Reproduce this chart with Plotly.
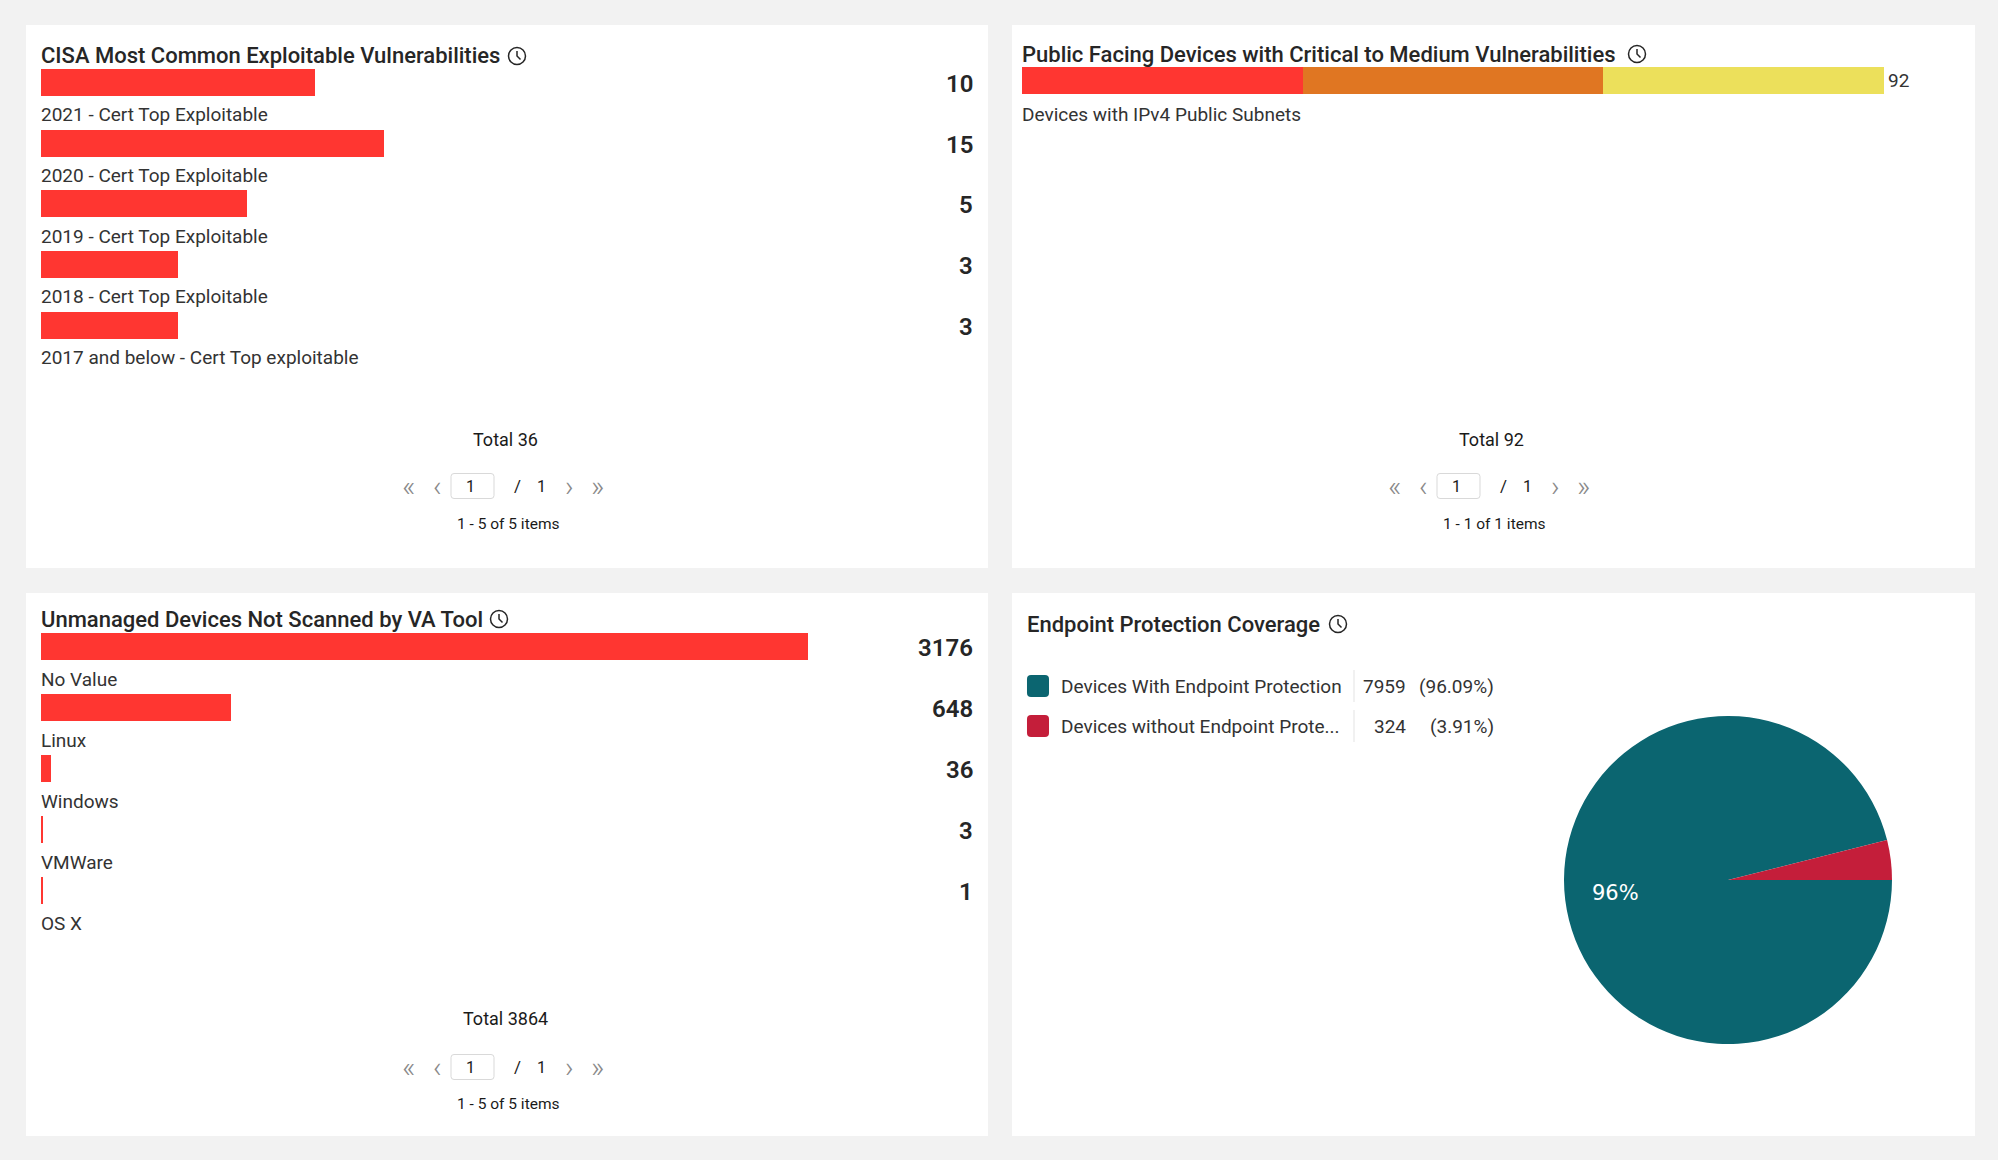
import math
import plotly.graph_objects as go

W, H = 1998, 1160

# CISA Most Common Exploitable Vulnerabilities
cisa_labels = ["2021 - Cert Top Exploitable", "2020 - Cert Top Exploitable",
               "2019 - Cert Top Exploitable", "2018 - Cert Top Exploitable",
               "2017 and below - Cert Top exploitable"]
cisa_counts = [10, 15, 5, 3, 3]
cisa_bars = [4, 5, 3, 2, 2]  # bar lengths as drawn in the widget (own scale)

# Public Facing Devices with Critical to Medium Vulnerabilities
pf_label = "Devices with IPv4 Public Subnets"
pf_severity = ["Critical", "High", "Medium"]
pf_values = [30, 32, 30]

# Unmanaged Devices Not Scanned by VA Tool
um_labels = ["No Value", "Linux", "Windows", "VMWare", "OS X"]
um_counts = [3176, 648, 36, 3, 1]
um_bars = [3176, 785, 41, 5, 5]  # bar lengths as drawn

# Endpoint Protection Coverage
ep_labels = ["Devices With Endpoint Protection", "Devices without Endpoint Prote..."]
ep_values = [7959, 324]

RED = "#ff3631"
SEV_COLORS = ["#ff3631", "#e07622", "#ece05b"]
EP_COLORS = ["#0b6570", "#c41e3a"]
DARK = "#262626"
TXT = "#333333"
GREY = "#8a8a8a"


def px(x):
    return x / W


def py(y):
    return 1 - y / H


def rrect(x0, y0, x1, y1, r):
    pts = [("M", x0 + r, y0), ("L", x1 - r, y0), ("Q", x1, y0, x1, y0 + r),
           ("L", x1, y1 - r), ("Q", x1, y1, x1 - r, y1), ("L", x0 + r, y1),
           ("Q", x0, y1, x0, y1 - r), ("L", x0, y0 + r), ("Q", x0, y0, x0 + r, y0)]
    out = ""
    for p in pts:
        c = p[1:]
        coords = " ".join(f"{px(c[i]):.5f},{py(c[i + 1]):.5f}" for i in range(0, len(c), 2))
        out += f"{p[0]} {coords} "
    return out + "Z"


fig = go.Figure()

# bars
fig.add_trace(go.Bar(x=cisa_bars, y=list(range(len(cisa_bars))), orientation="h", width=0.445,
                     marker=dict(color=RED, line_width=0), xaxis="x", yaxis="y", hoverinfo="skip"))
for name, v, c in zip(pf_severity, pf_values, SEV_COLORS):
    fig.add_trace(go.Bar(x=[v], y=[0], name=name, orientation="h", width=0.5,
                         marker=dict(color=c, line_width=0), xaxis="x2", yaxis="y2", hoverinfo="skip"))
fig.add_trace(go.Bar(x=um_bars, y=list(range(len(um_bars))), orientation="h", width=0.443,
                     marker=dict(color=RED, line_width=0), xaxis="x3", yaxis="y3", hoverinfo="skip"))

# pie
ep_total = sum(ep_values)
pie_cx, pie_cy, pie_r = 1728, 880, 164
fig.add_trace(go.Pie(values=ep_values, labels=ep_labels, sort=False, direction="counterclockwise",
                     rotation=90, marker=dict(colors=EP_COLORS, line_width=0), textinfo="none",
                     domain=dict(x=[px(pie_cx - pie_r), px(pie_cx + pie_r)],
                                 y=[py(pie_cy + pie_r), py(pie_cy - pie_r)]),
                     hoverinfo="skip", showlegend=False))

shapes = []
ann = []

# label of the big slice, placed at its mid angle
mid = math.radians(90 + 180 * ep_values[0] / ep_total)
ann.append(dict(text=f"{round(ep_values[0] / ep_total * 100)}%",
                x=px(pie_cx + 0.69 * pie_r * math.sin(mid)), y=py(pie_cy - 0.66 * pie_r * math.cos(mid)),
                xref="paper", yref="paper", xanchor="center", yanchor="middle", showarrow=False,
                font=dict(size=21, color="white", family="DejaVu Sans")))

# cards
for x0, y0, x1, y1 in [(26, 25, 988, 568), (1012, 25, 1975, 568),
                       (26, 593, 988, 1136), (1012, 593, 1975, 1136)]:
    shapes.append(dict(type="rect", xref="paper", yref="paper", x0=px(x0), x1=px(x1),
                       y0=py(y1), y1=py(y0), fillcolor="white", line_width=0, layer="below"))

# titles + clock icons
for text, x, y, icx in [("CISA Most Common Exploitable Vulnerabilities", 41, 56, 517),
                        ("Public Facing Devices with Critical to Medium Vulnerabilities", 1022, 54, 1637),
                        ("Unmanaged Devices Not Scanned by VA Tool", 41, 619, 499),
                        ("Endpoint Protection Coverage", 1027, 624, 1338)]:
    ann.append(dict(text=text, x=px(x - 2), y=py(y), xref="paper", yref="paper", xanchor="left",
                    yanchor="middle", showarrow=False,
                    font=dict(size=22, color=DARK, family="Roboto", weight=500)))
    r = 8.5
    shapes.append(dict(type="circle", xref="paper", yref="paper", x0=px(icx - r), x1=px(icx + r),
                       y0=py(y + r), y1=py(y - r), line=dict(color=DARK, width=1.5)))
    shapes.append(dict(type="path", xref="paper", yref="paper",
                       path=f"M {px(icx)},{py(y - 5)} L {px(icx)},{py(y)} L {px(icx + 3.5)},{py(y + 3.5)}",
                       line=dict(color=DARK, width=1.5)))

# row labels and counts
for xr, yr, labels, counts in [("x", "y", cisa_labels, cisa_counts),
                               ("x3", "y3", um_labels, um_counts)]:
    for i, (lab, c) in enumerate(zip(labels, counts)):
        ann.append(dict(text=lab, x=0, y=i, xref=xr, yref=yr, xanchor="left", yanchor="middle",
                        xshift=-2, yshift=-32.5, showarrow=False,
                        font=dict(size=19, color=TXT, family="Roboto")))
        ann.append(dict(text=str(c), x=px(975), y=i, xref="paper", yref=yr, xanchor="right",
                        yanchor="middle", yshift=-1.5, showarrow=False,
                        font=dict(size=24, color=DARK, family="Roboto", weight=600)))

pf_total = sum(pf_values)
ann.append(dict(text=str(pf_total), x=pf_total, y=0, xref="x2", yref="y2", xanchor="left",
                yanchor="middle", xshift=2, showarrow=False, font=dict(size=19, color=TXT, family="Roboto")))
ann.append(dict(text=pf_label, x=0, y=0, xref="x2", yref="y2", xanchor="left", yanchor="middle",
                xshift=-2, yshift=-33.5, showarrow=False, font=dict(size=19, color=TXT, family="Roboto")))


# footers
def footer(cx, y_tot, y_pag, y_items, total, items):
    ann.append(dict(text=f"Total {total}", x=px(cx - 2), y=py(y_tot), xref="paper", yref="paper",
                    xanchor="center", yanchor="middle", showarrow=False,
                    font=dict(size=18, color="#1a1a1a", family="Roboto")))
    for t, dx, col, sz, wt in [("«", -99, GREY, 29, 300), ("‹", -70, GREY, 29, 300),
                               ("1", -37, "#1a1a1a", 16, 400), ("/", 10, "#1a1a1a", 17, 400),
                               ("1", 34, "#1a1a1a", 16, 400),
                               ("›", 62, GREY, 29, 300), ("»", 90, GREY, 29, 300)]:
        ann.append(dict(text=t, x=px(cx + dx), y=py(y_pag), xref="paper", yref="paper",
                        xanchor="center", yanchor="middle", showarrow=False,
                        font=dict(size=sz, color=col, family="Roboto", weight=wt)))
    shapes.append(dict(type="path", xref="paper", yref="paper",
                       path=rrect(cx - 56, y_pag - 12.5, cx - 13, y_pag + 12.5, 3),
                       line=dict(color="#d9d9d9", width=1)))
    ann.append(dict(text=items, x=px(cx + 1), y=py(y_items), xref="paper", yref="paper",
                    xanchor="center", yanchor="middle", showarrow=False,
                    font=dict(size=15.5, color="#1a1a1a", family="Roboto")))


footer(507, 439, 486, 524, sum(cisa_counts), f"1 - {len(cisa_counts)} of {len(cisa_counts)} items")
footer(1493, 439, 486, 524, pf_total, "1 - 1 of 1 items")
footer(507, 1018, 1067, 1104, sum(um_counts), f"1 - {len(um_counts)} of {len(um_counts)} items")

# pie legend
for i, (lab, v, c) in enumerate(zip(ep_labels, ep_values, EP_COLORS)):
    yc = 686 + i * 40
    shapes.append(dict(type="path", xref="paper", yref="paper", path=rrect(1027, yc - 11, 1049, yc + 11, 4),
                       fillcolor=c, line_width=0))
    shapes.append(dict(type="line", xref="paper", yref="paper", x0=px(1354), x1=px(1354),
                       y0=py(yc - 16), y1=py(yc + 16), line=dict(color="#e3e3e3", width=1)))
    ann.append(dict(text=lab, x=px(1059), y=py(yc), xref="paper", yref="paper", xanchor="left",
                    yanchor="middle", showarrow=False, font=dict(size=19, color=TXT, family="Roboto")))
    ann.append(dict(text=str(v), x=px(1408), y=py(yc), xref="paper", yref="paper", xanchor="right",
                    yanchor="middle", showarrow=False, font=dict(size=19, color=TXT, family="Roboto")))
    ann.append(dict(text=f"({v / ep_total * 100:.2f}%)", x=px(1496), y=py(yc), xref="paper",
                    yref="paper", xanchor="right", yanchor="middle", showarrow=False,
                    font=dict(size=19, color=TXT, family="Roboto")))

hidden = dict(visible=False, fixedrange=True)
fig.update_layout(
    width=W, height=H, margin=dict(l=0, r=0, t=0, b=0),
    paper_bgcolor="#f2f2f2", plot_bgcolor="rgba(0,0,0,0)",
    font=dict(family="Roboto"), showlegend=False, barmode="stack",
    xaxis=dict(hidden, domain=[px(41), px(973)], range=[0, 932 / 68.5]),
    yaxis=dict(hidden, domain=[py(355.5), py(52)], range=[4.5, -0.5]),
    xaxis2=dict(hidden, domain=[px(1022), px(1884)], range=[0, pf_total]),
    yaxis2=dict(hidden, domain=[py(107.5), py(53.5)], range=[0.5, -0.5]),
    xaxis3=dict(hidden, domain=[px(41), px(973)], range=[0, 3860]),
    yaxis3=dict(hidden, domain=[py(921), py(616)], range=[4.5, -0.5]),
    shapes=shapes, annotations=ann,
)

fig.write_html("out.html", config={"displayModeBar": False},
               post_script="document.body.style.margin='0';"
                           "document.body.style.background='#f2f2f2';")
